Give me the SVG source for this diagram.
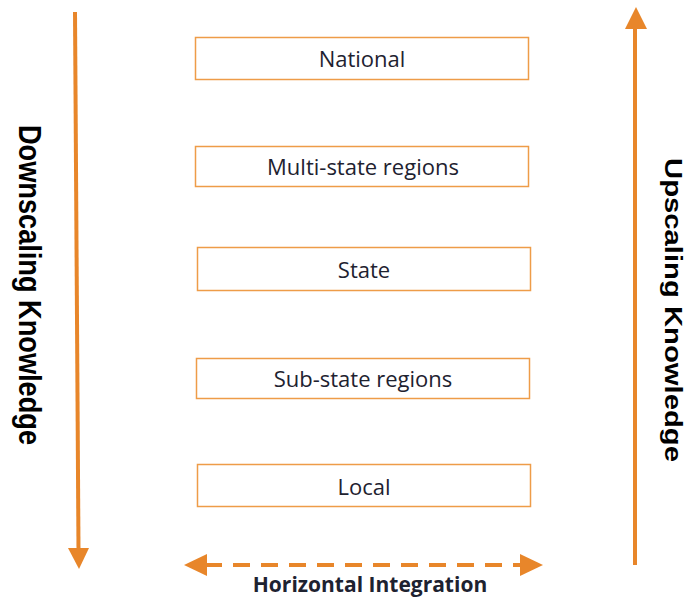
<svg xmlns="http://www.w3.org/2000/svg" width="692" height="598" viewBox="0 0 692 598">
<style>
.box{fill:#ffffff;stroke:#EE9C48;stroke-width:1.5}
.lbl{font-family:"Open Sans","Liberation Sans",sans-serif;font-size:22px;fill:#1e2230;text-anchor:middle}
.side{font-family:"Liberation Sans",Arial,sans-serif;font-weight:bold;fill:#000000}
.arr{stroke:#E8862A;stroke-width:4;fill:none}
.head{fill:#E8862A}
</style>
<rect width="692" height="598" fill="#ffffff"/>
<g id="national"><rect class="box" x="195.5" y="37.5" width="333" height="42"/><text class="lbl" x="362" y="67">National</text></g>
<g id="multi-state"><rect class="box" x="195.5" y="146.5" width="333" height="40"/><text class="lbl" x="363" y="175">Multi-state regions</text></g>
<g id="state"><rect class="box" x="197.5" y="247.5" width="333" height="43"/><text class="lbl" x="364" y="278">State</text></g>
<g id="sub-state"><rect class="box" x="196.5" y="358.5" width="333" height="40"/><text class="lbl" x="363" y="387">Sub-state regions</text></g>
<g id="local"><rect class="box" x="197.5" y="464.5" width="333" height="42"/><text class="lbl" x="364" y="495">Local</text></g>
<g id="connectors">
<line class="arr" x1="75" y1="12" x2="78.5" y2="550"/>
<polygon class="head" points="68,548 89,548 79,569"/>
<line class="arr" x1="635" y1="565" x2="635" y2="27"/>
<polygon class="head" points="625,29 647,29 636,7"/>
<line class="arr" x1="205" y1="565" x2="522" y2="565" stroke-dasharray="17 11"/>
<polygon class="head" points="184,565 207,554 207,576"/>
<polygon class="head" points="543,565 520,554 520,576"/>
</g>
<g id="labels">
<text class="side" font-size="31" transform="translate(19,125) rotate(90)" textLength="320" lengthAdjust="spacingAndGlyphs">Downscaling Knowledge</text>
<text class="side" font-size="23" transform="translate(665,158) rotate(90)" textLength="304" lengthAdjust="spacingAndGlyphs">Upscaling Knowledge</text>
<text x="370" y="592" font-family="'Open Sans','Liberation Sans',sans-serif" font-weight="bold" font-size="21" fill="#1e2230" text-anchor="middle">Horizontal Integration</text>
</g>
</svg>
